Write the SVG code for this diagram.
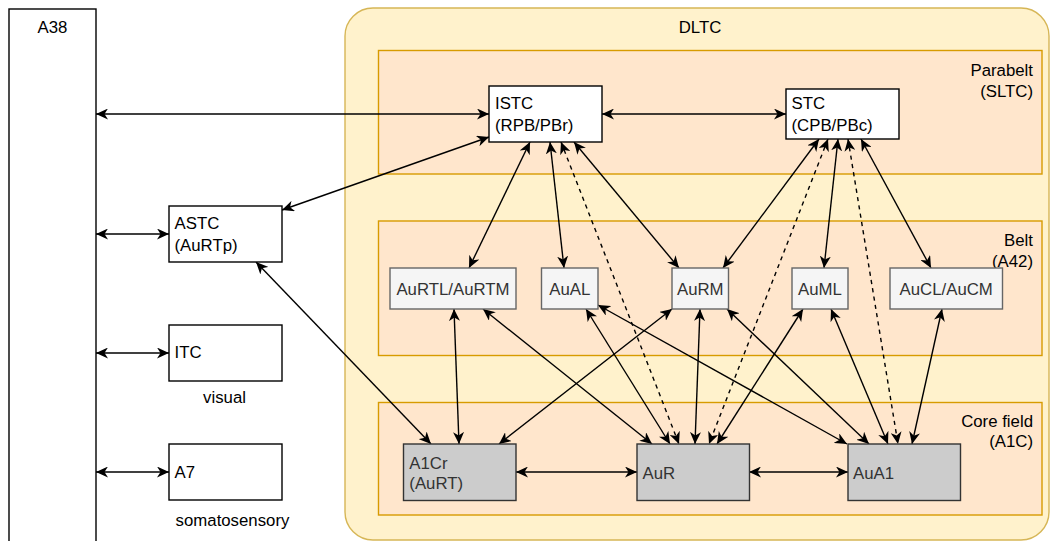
<svg xmlns="http://www.w3.org/2000/svg" width="1050" height="541" viewBox="0 0 1050 541">
<defs>
<marker id="ah" viewBox="0 0 12 11" refX="12" refY="5.5" markerWidth="12" markerHeight="11" markerUnits="userSpaceOnUse" orient="auto-start-reverse"><path d="M0,0 L12,5.5 L0,11 L3.5,5.5 Z" fill="#000"/></marker>
</defs>
<style>
text{font-family:"Liberation Sans",Arial,sans-serif;font-size:16.8px;fill:#000}
.box{fill:#fff;stroke:#000;stroke-width:1.4}
.belt{fill:#f5f5f5;stroke:#666;stroke-width:1.4}
.core{fill:#ccc;stroke:#333;stroke-width:1.4}
.grp{fill:#ffe6cc;stroke:#d79b00;stroke-width:1.4}
.g{fill:#333}
.c{text-anchor:middle}
.r{text-anchor:end}
#connectors line{stroke:#000;stroke-width:1.4;fill:none}
.dash{stroke-dasharray:4.2 4.2}
</style>
<rect width="1050" height="541" fill="#fff"/>

<g id="A38">
<rect class="box" x="9" y="9" width="87" height="545"/>
<text class="c" x="52.5" y="33">A38</text>
</g>

<g id="DLTC">
<rect x="345" y="8" width="704" height="532" rx="28" ry="28" fill="#fff2cc" stroke="#d6b656" stroke-width="1.4"/>
<text class="c" x="700" y="33">DLTC</text>
</g>

<g id="Parabelt">
<rect class="grp" x="378.5" y="50.5" width="663.5" height="123.5"/>
<text class="r" x="1033" y="76">Parabelt</text>
<text class="r" x="1033" y="96.5">(SLTC)</text>
</g>

<g id="Belt">
<rect class="grp" x="378.5" y="221" width="663.5" height="134.5"/>
<text class="r" x="1033" y="246">Belt</text>
<text class="r" x="1033" y="266.5">(A42)</text>
</g>

<g id="CoreField">
<rect class="grp" x="378.5" y="402.5" width="663.5" height="112.5"/>
<text class="r" x="1033" y="426.5">Core field</text>
<text class="r" x="1033" y="447">(A1C)</text>
</g>

<g id="connectors" marker-start="url(#ah)" marker-end="url(#ah)">
<line x1="96" y1="114" x2="489" y2="114"/>
<line x1="96" y1="234" x2="169" y2="234"/>
<line x1="96" y1="353" x2="169" y2="353"/>
<line x1="96" y1="472" x2="169" y2="472"/>
<line x1="602" y1="114" x2="786" y2="114"/>
<line x1="489" y1="137" x2="282" y2="210"/>
<line x1="256" y1="262" x2="431" y2="444"/>
<line x1="530" y1="142" x2="469" y2="268"/>
<line x1="550" y1="142" x2="564" y2="268"/>
<line class="dash" x1="561" y1="142" x2="679" y2="444"/>
<line x1="574" y1="142" x2="679" y2="268"/>
<line x1="819" y1="139" x2="723" y2="268"/>
<line class="dash" x1="828" y1="139" x2="709" y2="444"/>
<line x1="838" y1="139" x2="824" y2="268"/>
<line class="dash" x1="848" y1="139" x2="898" y2="444"/>
<line x1="861" y1="139" x2="931" y2="268"/>
<line x1="454" y1="309" x2="459" y2="444"/>
<line x1="483" y1="309" x2="652" y2="444"/>
<line x1="586" y1="309" x2="670" y2="444"/>
<line x1="598" y1="305" x2="847" y2="444"/>
<line x1="672" y1="309" x2="499" y2="444"/>
<line x1="700" y1="309" x2="695" y2="444"/>
<line x1="727" y1="309" x2="869" y2="444"/>
<line x1="803" y1="309" x2="717" y2="444"/>
<line x1="831" y1="309" x2="888" y2="444"/>
<line x1="942" y1="309" x2="912" y2="444"/>
<line x1="516" y1="472" x2="637" y2="472"/>
<line x1="749" y1="472" x2="848" y2="472"/>
</g>

<g id="ASTC">
<rect class="box" x="169" y="206" width="113" height="56"/>
<text x="174.5" y="229.3">ASTC</text>
<text x="174.5" y="250.8">(AuRTp)</text>
</g>

<g id="ITC">
<rect class="box" x="169" y="325" width="113" height="56"/>
<text x="174.5" y="358.3">ITC</text>
</g>
<text class="c" x="224.5" y="403">visual</text>

<g id="A7">
<rect class="box" x="169" y="444" width="113" height="56"/>
<text x="174.5" y="478.3">A7</text>
</g>
<text class="c" x="232.5" y="525.5">somatosensory</text>

<g id="ISTC">
<rect class="box" x="489" y="86" width="113" height="56"/>
<text x="495" y="109.3">ISTC</text>
<text x="495" y="130.8">(RPB/PBr)</text>
</g>

<g id="STC">
<rect class="box" x="786" y="89" width="113" height="50"/>
<text x="791.5" y="109">STC</text>
<text x="791.5" y="130.5">(CPB/PBc)</text>
</g>

<g id="AuRTL">
<rect class="belt" x="390" y="268" width="126" height="41"/>
<text class="c g" x="453" y="294.5">AuRTL/AuRTM</text>
</g>
<g id="AuAL">
<rect class="belt" x="541.5" y="268" width="56.5" height="41"/>
<text class="c g" x="569.75" y="294.5">AuAL</text>
</g>
<g id="AuRM">
<rect class="belt" x="672" y="268" width="56.5" height="41"/>
<text class="c g" x="700.25" y="294.5">AuRM</text>
</g>
<g id="AuML">
<rect class="belt" x="792" y="268" width="56" height="41"/>
<text class="c g" x="820" y="294.5">AuML</text>
</g>
<g id="AuCL">
<rect class="belt" x="890" y="268" width="112.5" height="41"/>
<text class="c g" x="946.2" y="294.5">AuCL/AuCM</text>
</g>

<g id="A1Cr">
<rect class="core" x="403.5" y="444" width="112.5" height="56.5"/>
<text class="g" x="409.3" y="468.7">A1Cr</text>
<text class="g" x="409.3" y="489.3">(AuRT)</text>
</g>
<g id="AuR">
<rect class="core" x="637" y="444" width="112.5" height="56.5"/>
<text class="g" x="642.5" y="478.7">AuR</text>
</g>
<g id="AuA1">
<rect class="core" x="848" y="444" width="112.5" height="56.5"/>
<text class="g" x="853" y="478.7">AuA1</text>
</g>
</svg>
